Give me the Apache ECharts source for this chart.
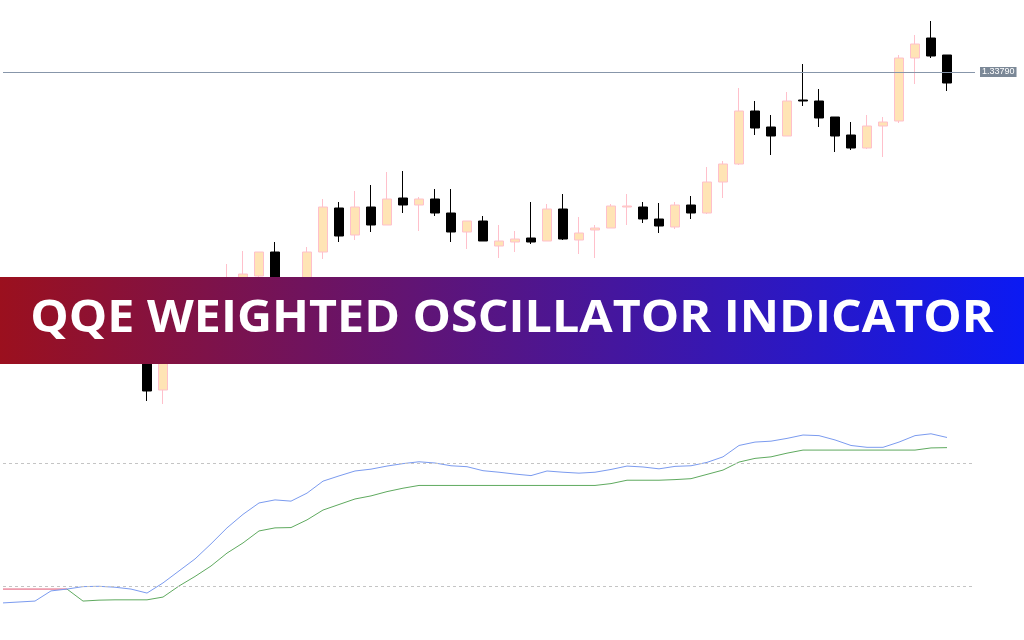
<!DOCTYPE html>
<html><head><meta charset="utf-8">
<script src="https://cdn.jsdelivr.net/npm/echarts@6/dist/echarts.min.js"></script>
<style>html,body{margin:0;padding:0;background:#fff}#c{width:1024px;height:640px}</style>
</head><body><div id="c"></div>
<script>
// Candles (one per bar, left to right)
const opens = [1.33532,1.33524,1.33527,1.33522,1.33540,1.33547,1.33557,1.33554,1.33546,1.33537,
1.33472,1.33512,1.33537,1.33557,1.33572,1.33580,1.33586,1.33610,1.33582,1.33572,
1.33610,1.33654,1.33627,1.33655,1.33637,1.33664,1.33657,1.33663,1.33649,1.33630,
1.33641,1.33616,1.33620,1.33624,1.33621,1.33653,1.33622,1.33632,1.33634,1.33655,
1.33655,1.33643,1.33635,1.33657,1.33649,1.33680,1.33698,1.33751,1.33735,1.33726,
1.33762,1.33761,1.33745,1.33727,1.33714,1.33736,1.33741,1.33804,1.33824,1.33807];
const closes = [1.33524,1.33527,1.33522,1.33540,1.33547,1.33557,1.33554,1.33546,1.33537,1.33471,
1.33512,1.33537,1.33557,1.33572,1.33582,1.33588,1.33610,1.33582,1.33577,1.33610,
1.33655,1.33626,1.33655,1.33637,1.33663,1.33657,1.33663,1.33649,1.33630,1.33641,
1.33621,1.33621,1.33623,1.33620,1.33653,1.33623,1.33629,1.33634,1.33656,1.33656,
1.33643,1.33636,1.33657,1.33649,1.33680,1.33698,1.33751,1.33734,1.33726,1.33761,
1.33761,1.33744,1.33726,1.33714,1.33736,1.33740,1.33804,1.33818,1.33806,1.33779];
const lows = [1.33517,1.33518,1.33514,1.33519,1.33534,1.33542,1.33546,1.33540,1.33532,1.33461,
1.33458,1.33507,1.33532,1.33552,1.33566,1.33574,1.33580,1.33574,1.33570,1.33566,
1.33603,1.33620,1.33622,1.33630,1.33637,1.33649,1.33631,1.33646,1.33620,1.33613,
1.33621,1.33604,1.33610,1.33618,1.33621,1.33622,1.33608,1.33604,1.33634,1.33637,
1.33639,1.33629,1.33633,1.33643,1.33648,1.33664,1.33697,1.33727,1.33707,1.33726,
1.33756,1.33735,1.33710,1.33712,1.33713,1.33705,1.33739,1.33778,1.33804,1.33771];
const highs = [1.33537,1.33532,1.33534,1.33544,1.33557,1.33562,1.33564,1.33560,1.33552,1.33544,
1.33517,1.33544,1.33564,1.33579,1.33598,1.33611,1.33610,1.33620,1.33583,1.33615,
1.33663,1.33660,1.33671,1.33677,1.33690,1.33691,1.33665,1.33673,1.33673,1.33641,
1.33646,1.33637,1.33631,1.33660,1.33658,1.33668,1.33645,1.33637,1.33658,1.33668,
1.33660,1.33659,1.33660,1.33666,1.33695,1.33701,1.33774,1.33761,1.33747,1.33770,
1.33798,1.33773,1.33745,1.33740,1.33747,1.33745,1.33807,1.33827,1.33841,1.33807];
// Oscillator
const qqeFast = [24.5,24.8,25.1,28.4,29.0,29.8,29.9,29.6,29.0,27.7,
31.0,34.9,38.8,43.7,48.9,53.3,57.0,58.0,57.6,60.2,
64.1,65.8,67.4,68.0,69.0,69.8,70.4,70.0,69.1,68.8,
67.5,67.0,66.4,65.9,67.4,67.0,66.7,67.0,67.9,69.0,
68.7,68.1,68.9,69.1,70.2,72.0,75.7,76.8,77.1,78.0,
79.1,78.9,77.5,75.7,75.1,75.1,76.8,78.9,79.5,78.3];
const qqeSlow = [null,null,null,null,29.0,25.1,25.4,25.5,25.5,25.5,
26.4,30.0,33.1,36.5,40.7,44.0,47.9,48.9,49.0,51.5,
54.7,56.5,58.3,59.3,60.7,61.8,62.7,62.7,62.7,62.7,
62.7,62.7,62.7,62.7,62.7,62.7,62.7,62.7,63.3,64.4,
64.4,64.4,64.6,64.9,66.3,67.7,70.3,71.5,72.0,73.2,
74.2,74.2,74.2,74.2,74.2,74.2,74.2,74.2,74.9,75.0];
const qqeRed = [29.0,29.0,29.0,29.0,29.0];
const priceLevel = 1.33790;
const oscLevels = [70, 30];
const titleText = 'QQE WEIGHTED OSCILLATOR INDICATOR';

const idx = opens.map((_, i) => i);
const chart = echarts.init(document.getElementById('c'));
const xa = (g) => ({type:'value', gridIndex:g, min:0, max:60.75, show:false});
chart.setOption({
  animation:false,
  backgroundColor:'#ffffff',
  grid:[{left:3, width:972, top:0, height:640}, {left:3, width:972, top:400, height:240}],
  xAxis:[xa(0), xa(1)],
  yAxis:[{type:'value', gridIndex:0, min:1.33222, max:1.33862, show:false, splitLine:{show:false}},
         {type:'value', gridIndex:1, min:12.439, max:90.488, show:false, splitLine:{show:false}}],
  series:[
    {type:'candlestick', xAxisIndex:0, yAxisIndex:0, barWidth:10, silent:true,
     data: idx.map(i => [i, opens[i], closes[i], lows[i], highs[i]]),
     itemStyle:{color:'#ffe4b5', color0:'#000000', borderColor:'#ffc0cb', borderColor0:'#000000', borderWidth:1}},
    {type:'line', xAxisIndex:0, yAxisIndex:0, silent:true, showSymbol:false, data:[], z:1,
     markLine:{silent:true, symbol:'none', animation:false, precision:5,
       lineStyle:{color:'#8796aa', width:1, type:'solid'},
       label:{show:true, position:'end', distance:5, formatter: () => priceLevel.toFixed(5),
              color:'#ffffff', backgroundColor:'#7b8897', fontSize:9, fontFamily:'Liberation Sans', padding:[1,2,0,2]},
       data:[{yAxis: priceLevel}]}},
    {type:'line', xAxisIndex:1, yAxisIndex:1, showSymbol:false, silent:true,
     data: idx.map(i => [i, qqeSlow[i]]), lineStyle:{color:'#5faa5f', width:1}, z:3,
     markLine:{silent:true, symbol:'none', animation:false, precision:2, label:{show:false},
       lineStyle:{color:'#c4c4c4', width:1, type:[3,3]},
       data: oscLevels.map(v => ({yAxis:v}))}},
    {type:'line', xAxisIndex:1, yAxisIndex:1, showSymbol:false, silent:true,
     data: qqeRed.map((v,i) => [i, v]), lineStyle:{color:'#e0506e', width:1}, z:3},
    {type:'line', xAxisIndex:1, yAxisIndex:1, showSymbol:false, silent:true,
     data: idx.map(i => [i, qqeFast[i]]), lineStyle:{color:'#7b9bef', width:1}, z:4}
  ],
  graphic:[
    {type:'rect', left:0, top:277, z:100, shape:{width:1024, height:87},
     style:{fill:new echarts.graphic.LinearGradient(0,0,1,0,[{offset:0,color:'#9b101e'},{offset:1,color:'#0b1af3'}])}},
    {type:'text', x:512, y:319, scaleX:1.1, z:101,
     style:{text:titleText, fill:'#ffffff', fontSize:44, fontWeight:'bold', fontFamily:'Open Sans', align:'center', verticalAlign:'middle'}}
  ]
});
</script></body></html>
